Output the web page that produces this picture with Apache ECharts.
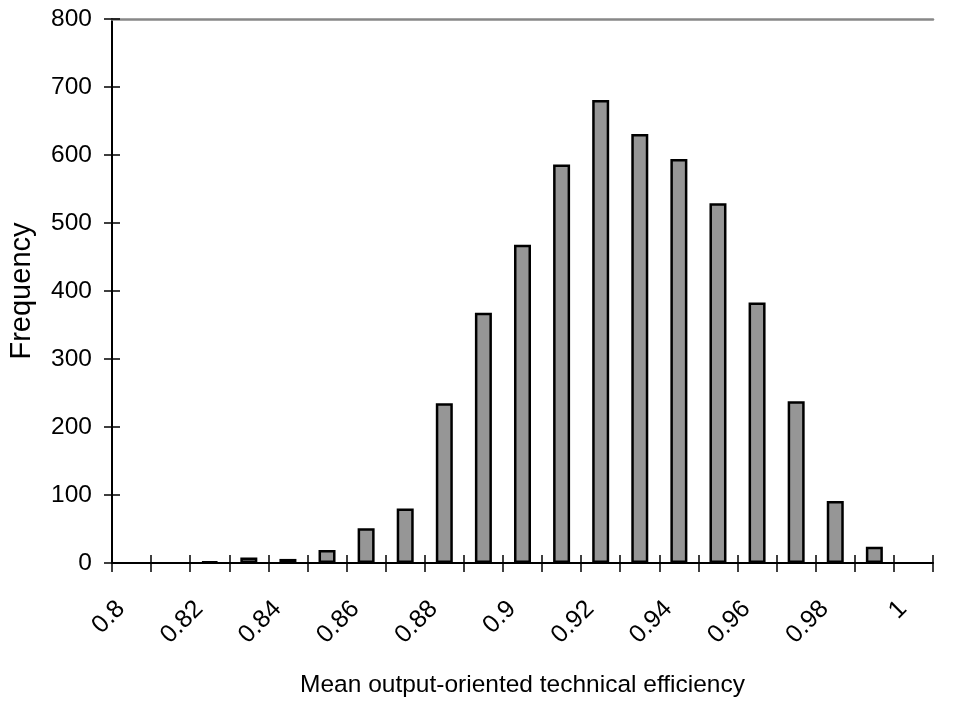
<!DOCTYPE html>
<html>
<head>
<meta charset="utf-8">
<script src="https://cdn.jsdelivr.net/npm/echarts@6/dist/echarts.min.js"></script>
<style>html,body{margin:0;padding:0;background:#fff}#c{width:963px;height:704px}</style>
</head>
<body>
<div id="c"></div>
<script>
// Bin centres (mean output-oriented technical efficiency)
const binCentres = [0.805, 0.815, 0.825, 0.835, 0.845, 0.855, 0.865, 0.875, 0.885, 0.895,
                    0.905, 0.915, 0.925, 0.935, 0.945, 0.955, 0.965, 0.975, 0.985, 0.995];
// Frequency per bin
const frequency = [0, 0, 2, 8, 6, 19, 51, 80, 235, 368,
                   468, 586, 681, 631, 594, 529, 383, 238, 91, 24];
const xTitle = 'Mean output-oriented technical efficiency';
const yTitle = 'Frequency';
const xMin = 0.8, xMax = 1.01, xStep = 0.01;
const yMin = 0, yMax = 800, yStep = 100;

const font = 'Liberation Sans, Arial, sans-serif';
const chart = echarts.init(document.getElementById('c'), null, {renderer: 'canvas'});
const fmtX = v => {
  const k = Math.round(v * 100);
  return (k % 2 === 0 && k <= 100) ? String(parseFloat((k / 100).toFixed(2))) : '';
};
const baseX = {type: 'value', min: xMin, max: xMax, interval: xStep, splitLine: {show: false}};
const baseY = {type: 'value', min: yMin, max: yMax, interval: yStep, splitLine: {show: false}};
const G = {top: 19, bottom: 141, containLabel: false, outerBoundsMode: 'none'};
chart.setOption({
  animation: false,
  grid: [
    Object.assign({left: 112, right: 30}, G),
    // label-only grid, same width, shifted right like the reference's rotated labels
    Object.assign({left: 121, right: 21}, G)
  ],
  xAxis: [
    Object.assign({}, baseX, {
      gridIndex: 0, position: 'bottom',
      name: xTitle, nameLocation: 'middle', nameGap: 110,
      nameTextStyle: {fontFamily: font, fontSize: 24.5, color: '#000'},
      axisLine: {show: true, onZero: false, lineStyle: {color: '#000', width: 2}},
      axisTick: {show: true, inside: false, length: 9, lineStyle: {color: '#000', width: 1.5}},
      axisLabel: {show: false}
    }),
    Object.assign({}, baseX, {
      gridIndex: 0, position: 'bottom',
      axisLine: {show: false, onZero: false},
      axisTick: {show: true, inside: true, length: 8, lineStyle: {color: '#000', width: 1.5}},
      axisLabel: {show: false}
    }),
    Object.assign({}, baseX, {
      gridIndex: 0, position: 'top',
      axisLine: {show: true, onZero: false, lineStyle: {color: '#888', width: 2.5}},
      axisTick: {show: false},
      axisLabel: {show: false}
    }),
    Object.assign({}, baseX, {
      gridIndex: 1, position: 'bottom',
      axisLine: {show: false, onZero: false},
      axisTick: {show: false},
      axisLabel: {show: true, rotate: 45, margin: 42, fontFamily: font, fontSize: 25, color: '#000',
        formatter: fmtX, showMinLabel: true, showMaxLabel: true, interval: 0}
    })
  ],
  yAxis: [
    Object.assign({}, baseY, {
      gridIndex: 0, position: 'left',
      name: yTitle, nameLocation: 'middle', nameGap: 76, nameRotate: 90,
      nameTextStyle: {fontFamily: font, fontSize: 29, color: '#000'},
      axisLine: {show: true, onZero: false, lineStyle: {color: '#000', width: 2}},
      axisTick: {show: true, inside: false, length: 8, lineStyle: {color: '#000', width: 1.5}},
      axisLabel: {show: true, margin: 20, fontFamily: font, fontSize: 24.5, color: '#000'}
    }),
    Object.assign({}, baseY, {
      gridIndex: 0, position: 'left',
      axisLine: {show: false, onZero: false},
      axisTick: {show: true, inside: true, length: 8, lineStyle: {color: '#000', width: 1.5}},
      axisLabel: {show: false}
    }),
    Object.assign({}, baseY, {gridIndex: 1, show: false})
  ],
  series: [{
    type: 'bar',
    xAxisIndex: 0, yAxisIndex: 0,
    barWidth: 17,
    data: binCentres.map((c, i) => frequency[i] > 0
      ? {value: [c, frequency[i]]}
      : {value: [c, frequency[i]], itemStyle: {borderWidth: 0, opacity: 0}}),
    itemStyle: {color: '#969696', borderColor: '#000', borderWidth: 2.5}
  }]
});
</script>
</body>
</html>
